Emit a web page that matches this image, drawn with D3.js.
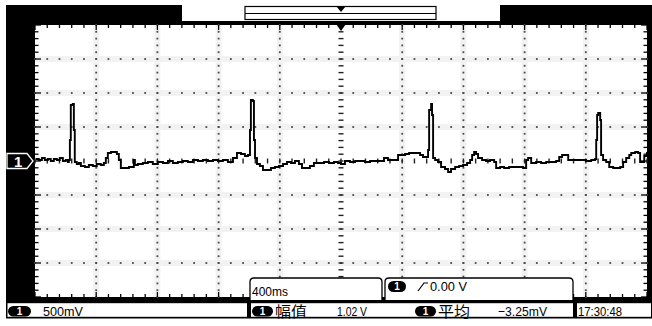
<!DOCTYPE html>
<html><head><meta charset="utf-8">
<script src="https://cdn.jsdelivr.net/npm/d3@7"></script>
<style>html,body{margin:0;padding:0;background:#fff;} svg{display:block;}</style>
</head><body>
<svg id="c" width="652" height="326"></svg>
<script>
// ---- data (time in ms relative to trigger, voltage in mV) ----
const timeMs = [-1995,-1975,-1955,-1936,-1916,-1897,-1877,-1857,-1838,-1818,-1799,-1785,-1779,-1772,-1766,-1753,-1746,-1740,-1727,-1713,-1700,-1674,-1648,-1622,-1596,-1570,-1550,-1537,-1524,-1504,-1485,-1465,-1452,-1439,-1413,-1386,-1367,-1354,-1347,-1328,-1295,-1262,-1230,-1197,-1164,-1131,-1099,-1066,-1033,-1001,-968,-935,-903,-870,-837,-804,-772,-739,-706,-680,-654,-628,-608,-595,-589,-576,-569,-562,-549,-530,-510,-484,-458,-432,-405,-379,-353,-327,-301,-275,-255,-229,-203,-177,-144,-111,-78,-46,-20,0,26,59,92,124,157,190,222,255,281,307,334,360,373,392,419,445,471,497,517,536,556,569,576,589,595,602,615,634,654,680,700,719,746,772,798,824,844,857,870,883,896,922,948,974,1001,1014,1040,1066,1099,1131,1164,1190,1210,1223,1243,1275,1308,1341,1373,1406,1426,1445,1465,1485,1511,1537,1570,1602,1635,1661,1668,1674,1681,1694,1700,1713,1733,1753,1779,1805,1825,1844,1864,1884,1897,1923,1942,1955,1969,1982,2000];
const voltMv = [29,15,44,15,29,0,29,15,44,0,15,-15,15,309,823,838,456,-15,-44,-29,-74,-88,-59,-74,-44,-59,-29,44,118,132,132,103,15,-103,-103,-88,-88,15,-59,-44,-29,-15,-44,-15,-29,0,-29,-15,0,-15,15,0,15,0,15,0,15,-15,44,118,103,74,88,456,897,882,309,44,-44,-74,-132,-132,-103,-88,-74,-44,-15,-29,0,-44,-103,-103,-74,-29,-29,-15,-29,-15,-29,-44,0,-15,0,0,-15,0,0,0,44,15,15,15,88,88,103,118,118,118,88,59,59,162,750,838,676,44,15,-15,-88,-118,-162,-118,-88,-74,-59,-29,15,88,132,103,44,15,0,15,-15,-103,-88,-103,-88,-88,-88,-103,15,44,-29,-15,-29,-15,-15,0,59,88,88,15,15,15,15,0,15,29,309,676,706,603,88,15,-15,-88,-103,-103,-88,-15,44,88,118,132,118,-15,-15,74,132];
const timeGrid = [-2000,-1600,-1200,-800,-400,0,400,800,1200,1600,2000];
const voltGrid = [-2000,-1500,-1000,-500,0,500,1000,1500,2000];
const channelLabel = "1";
const timebaseLabel = "400ms";
const triggerLabel = "0.00 V";
const scaleLabel = "500mV";
const measureNames = ["幅值","平均"];
const measureValues = ["1.02 V","\u22123.25mV"];
const clockLabel = "17:30:48";

const svg = d3.select("#c");
const LAT = "'Liberation Sans Narrow','Liberation Sans',Arial,sans-serif";
const CJK = "'Noto Sans CJK SC','Noto Sans CJK JP',sans-serif";
const L=35,R=647,T=25,B=297;
const x = d3.scaleLinear().domain([-2000,2000]).range([L,R]);
const y = d3.scaleLinear().domain([-2000,2000]).range([B,T]);
const minorT = d3.range(-2000,2000.1,80);
const minorV = d3.range(-2000,2000.1,100);

// frame
svg.append("rect").attr("x",0).attr("y",0).attr("width",652).attr("height",326).attr("fill","#fff");
svg.append("rect").attr("x",6).attr("y",5).attr("width",646).attr("height",297).attr("fill","#000");
svg.append("rect").attr("x",L).attr("y",T).attr("width",R-L).attr("height",B-T).attr("fill","#fff");

const g = svg.append("g");
// faint halos around grid lines
voltGrid.slice(1,-1).filter(v=>v!==0).forEach(v=>{
  g.append("rect").attr("x",L).attr("y",y(v)-3).attr("width",R-L).attr("height",6).attr("fill","#f2f2f2");
});
timeGrid.slice(1,-1).filter(t=>t!==0).forEach(t=>{
  g.append("rect").attr("x",x(t)-3).attr("y",T).attr("width",6).attr("height",B-T).attr("fill","#f2f2f2");
});
// dotted grid
voltGrid.slice(1,-1).filter(v=>v!==0).forEach(v=>{
  g.selectAll(null).data(minorT).enter().append("rect")
   .attr("x",d=>x(d)-0.9).attr("y",y(v)-0.9).attr("width",1.8).attr("height",1.8).attr("fill","#4a4a4a");
});
timeGrid.slice(1,-1).filter(t=>t!==0).forEach(t=>{
  g.selectAll(null).data(minorV).enter().append("rect")
   .attr("x",x(t)-0.9).attr("y",d=>y(d)-0.9).attr("width",1.8).attr("height",1.8).attr("fill","#4a4a4a");
});
// center axes with dashes
g.selectAll(null).data(minorV).enter().append("rect")
 .attr("x",x(0)-2.5).attr("y",d=>y(d)-0.7).attr("width",5).attr("height",1.4).attr("fill","#222");
g.selectAll(null).data(minorT).enter().append("rect")
 .attr("x",d=>x(d)-0.7).attr("y",y(0)-2.5).attr("width",1.4).attr("height",5).attr("fill","#222");
// edge ticks
const isMajV = v => Math.abs(v%500)<1e-6;
const isMajT = t => Math.abs(t%400)<1e-6;
g.selectAll(null).data(minorV).enter().append("line")
 .attr("x1",L).attr("x2",d=>L+(isMajV(d)?6:3.5)).attr("y1",d=>y(d)).attr("y2",d=>y(d)).attr("stroke","#000").attr("stroke-width",1.3);
g.selectAll(null).data(minorV).enter().append("line")
 .attr("x1",R).attr("x2",d=>R-(isMajV(d)?6:3.5)).attr("y1",d=>y(d)).attr("y2",d=>y(d)).attr("stroke","#000").attr("stroke-width",1.3);
g.selectAll(null).data(minorT).enter().append("line")
 .attr("y1",T).attr("y2",d=>T+(isMajT(d)?5:3)).attr("x1",d=>x(d)).attr("x2",d=>x(d)).attr("stroke","#000").attr("stroke-width",1.3);
g.selectAll(null).data(minorT).enter().append("line")
 .attr("y1",B).attr("y2",d=>B-(isMajT(d)?5:3)).attr("x1",d=>x(d)).attr("x2",d=>x(d)).attr("stroke","#000").attr("stroke-width",1.3);

// trace
const pts = timeMs.map((t,i)=>({t, v: voltMv[i]}));
svg.append("clipPath").attr("id","clip").append("rect").attr("x",L).attr("y",T).attr("width",R-L).attr("height",B-T);
svg.append("path").datum(pts)
  .attr("clip-path","url(#clip)")
  .attr("d", d3.line().x(d=>x(d.t)).y(d=>y(d.v)).curve(d3.curveStepAfter))
  .attr("fill","none").attr("stroke","#000").attr("stroke-width",1.9).attr("stroke-linejoin","miter");

// channel marker
const cy = y(0);
svg.append("path").attr("d",`M7,${cy-7.5} L27,${cy-7.5} L33,${cy} L27,${cy+7.5} L7,${cy+7.5} Z`)
  .attr("fill","#000").attr("stroke","#fff").attr("stroke-width",1.3);
svg.append("text").attr("x",14).attr("y",cy+5.5).attr("fill","#fff").attr("font-family",LAT).attr("font-weight","bold").attr("font-size",15).text(channelLabel);

// top bar
svg.append("rect").attr("x",182).attr("y",5).attr("width",318).attr("height",16).attr("fill","#fff");
svg.append("rect").attr("x",245).attr("y",6.5).attr("width",191).attr("height",13).attr("fill","#fff").attr("stroke","#000").attr("stroke-width",1.2);
svg.append("line").attr("x1",245).attr("x2",436).attr("y1",13.5).attr("y2",13.5).attr("stroke","#000").attr("stroke-width",1.2);
svg.append("path").attr("d",`M${x(0)-5},6 L${x(0)+5},6 L${x(0)},12 Z`).attr("fill","#000");
svg.append("path").attr("d",`M${x(0)-5},${T-1} L${x(0)+5},${T-1} L${x(0)},${T+6} Z`).attr("fill","#000");

// overlay boxes at bottom of plot
function topRounded(x0,y0,x1,y1,r){return `M${x0},${y1} L${x0},${y0+r} Q${x0},${y0} ${x0+r},${y0} L${x1-r},${y0} Q${x1},${y0} ${x1},${y0+r} L${x1},${y1}`;}
svg.append("path").attr("d",topRounded(250,278,382,301,4)).attr("fill","#fff").attr("stroke","#000").attr("stroke-width",1.3);
svg.append("text").attr("x",252).attr("y",296).attr("font-family",LAT).attr("font-size",12.5).attr("textLength",36).attr("lengthAdjust","spacingAndGlyphs").text(timebaseLabel);
svg.append("path").attr("d",topRounded(385,278,573,301,4)).attr("fill","#fff").attr("stroke","#000").attr("stroke-width",1.3);
function badge(x0,y0,w,h){
  svg.append("rect").attr("x",x0).attr("y",y0).attr("width",w).attr("height",h).attr("rx",h/2).attr("fill","#000");
  svg.append("text").attr("x",x0+w/2).attr("y",y0+h-2).attr("text-anchor","middle").attr("fill","#fff").attr("font-family",LAT).attr("font-weight","bold").attr("font-size",10).text(channelLabel);
}
badge(388,281,18,11);
svg.append("path").attr("d","M418,291 L424,283 L428,283").attr("fill","none").attr("stroke","#000").attr("stroke-width",1.2);
svg.append("text").attr("x",430).attr("y",291).attr("font-family",LAT).attr("font-size",12).attr("textLength",37).attr("lengthAdjust","spacingAndGlyphs").text(triggerLabel);

// bottom status bar
svg.append("rect").attr("x",6).attr("y",300).attr("width",646).attr("height",18.5).attr("fill","#000");
[[7.5,247],[251,573],[577,651]].forEach(([a,b])=>{
  svg.append("rect").attr("x",a).attr("y",303.2).attr("width",b-a).attr("height",13.6).attr("fill","#fff");
});
badge(8,306,23,10.5);
svg.append("text").attr("x",43).attr("y",316).attr("font-family",LAT).attr("font-size",13).attr("textLength",40).attr("lengthAdjust","spacingAndGlyphs").text(scaleLabel);
badge(252,306,21,10.5);
svg.append("text").attr("x",275).attr("y",317).attr("font-family",CJK).attr("font-size",15).attr("textLength",32).attr("lengthAdjust","spacingAndGlyphs").text(measureNames[0]);
svg.append("text").attr("x",337).attr("y",316).attr("font-family",LAT).attr("font-size",13).attr("textLength",30).attr("lengthAdjust","spacingAndGlyphs").text(measureValues[0]);
badge(415,306,21,10.5);
svg.append("text").attr("x",438).attr("y",317).attr("font-family",CJK).attr("font-size",15).attr("textLength",32).attr("lengthAdjust","spacingAndGlyphs").text(measureNames[1]);
svg.append("text").attr("x",498).attr("y",316).attr("font-family",LAT).attr("font-size",13).attr("textLength",49).attr("lengthAdjust","spacingAndGlyphs").text(measureValues[1]);
svg.append("text").attr("x",578).attr("y",316).attr("font-family",LAT).attr("font-size",13).attr("textLength",44).attr("lengthAdjust","spacingAndGlyphs").text(clockLabel);
</script>
</body></html>
